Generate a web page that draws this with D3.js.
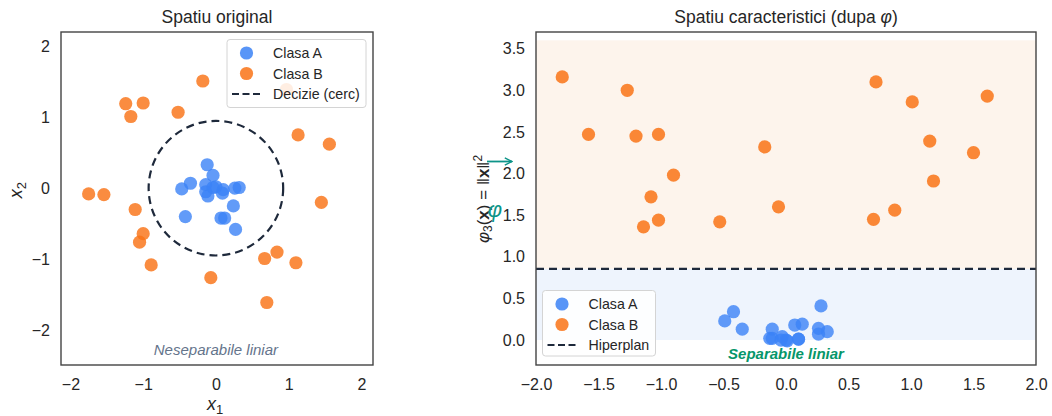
<html>
<head>
<meta charset="utf-8">
<title>Spatiu original / caracteristici</title>
<script src="https://cdn.jsdelivr.net/npm/d3@7"></script>
<style>
body { margin: 0; background: #fff; }
svg text { font-family: "Liberation Sans", Arial, sans-serif; }
</style>
</head>
<body>
<div id="chart"></div>
<script>
// ---- data ----
// left panel: original space (x1, x2)
var aX1 = [-0.12, -0.04, -0.35, -0.47, -0.14, 0.00, 0.10, -0.14, -0.11, 0.09, 0.26, 0.32, 0.24, -0.42, 0.07, 0.12, 0.27, -0.04];
var aX2 = [0.33, 0.18, 0.07, -0.01, 0.05, 0.02, -0.02, -0.05, -0.11, -0.07, 0.00, 0.01, -0.25, -0.40, -0.42, -0.42, -0.58, 0.01];
var bX1 = [-0.18, 0.97, -1.24, -1.00, -1.17, -0.52, 1.13, 1.56, -1.75, -1.54, 1.45, -1.11, -1.00, -1.05, 0.67, 0.84, 1.10, -0.89, -0.07, 0.70];
var bX2 = [1.51, 1.39, 1.19, 1.20, 1.01, 1.07, 0.75, 0.62, -0.08, -0.09, -0.20, -0.30, -0.64, -0.76, -0.99, -0.90, -1.05, -1.08, -1.26, -1.61];
var circleR = 0.925;

// right panel: feature space (x1, phi3)
var fAX = [0.28, -0.42, -0.49, -0.35, -0.11, 0.07, 0.13, 0.26, 0.33, 0.26, -0.13, -0.11, -0.03, 0.01, 0.10, 0.00, -0.04, 0.10];
var fAY = [0.41, 0.34, 0.23, 0.13, 0.13, 0.18, 0.19, 0.14, 0.10, 0.07, 0.02, 0.02, 0.04, -0.01, 0.01, 0.00, 0.00, 0.01];
var fBX = [-1.79, -1.27, -1.58, -1.20, -1.02, -0.17, -0.90, -1.08, -1.02, -1.14, -0.53, -0.06, 0.72, 1.01, 1.61, 1.15, 1.50, 1.18, 0.87, 0.70];
var fBY = [3.16, 3.00, 2.47, 2.45, 2.47, 2.32, 1.98, 1.72, 1.44, 1.36, 1.42, 1.60, 3.10, 2.86, 2.93, 2.39, 2.25, 1.91, 1.56, 1.45];
var threshold = 0.855;
var shadeTop = 3.6;

var leftXTicks = [-2, -1, 0, 1, 2];
var leftYTicks = [-2, -1, 0, 1, 2];
var rightXTicks = [-2.0, -1.5, -1.0, -0.5, 0.0, 0.5, 1.0, 1.5, 2.0];
var rightYTicks = [0.0, 0.5, 1.0, 1.5, 2.0, 2.5, 3.0, 3.5];

var colA = "#3b82f6", colB = "#f97316", dark = "#1e293b", teal = "#0d9488";

var svg = d3.select("#chart").append("svg").attr("width", 1052).attr("height", 416);

var L = {x0: 61, x1: 373, y0: 32, y1: 365};
var R = {x0: 536, x1: 1036, y0: 32, y1: 365};

var lx = d3.scaleLinear().domain([-2.13, 2.16]).range([L.x0, L.x1]);
var ly = d3.scaleLinear().domain([-2.49, 2.2]).range([L.y1, L.y0]);
var rx = d3.scaleLinear().domain([-2, 2]).range([R.x0, R.x1]);
var ry = d3.scaleLinear().domain([-0.3, 3.7]).range([R.y1, R.y0]);

function axes(g, xs, ys, xt, yt, fx, fy, box) {
  var ax = g.append("g").attr("transform", "translate(0," + box.y1 + ")")
    .call(d3.axisBottom(xs).tickValues(xt).tickSize(0).tickPadding(14).tickFormat(fx));
  var ay = g.append("g").attr("transform", "translate(" + box.x0 + ",0)")
    .call(d3.axisLeft(ys).tickValues(yt).tickSize(0).tickPadding(11).tickFormat(fy));
  [ax, ay].forEach(function(a) {
    a.select(".domain").remove();
    a.selectAll("text").attr("font-size", 16).attr("fill", "#262626")
      .style("font-family", "'Liberation Sans', Arial, sans-serif");
  });
}

function frame(g, box) {
  g.append("rect").attr("x", box.x0).attr("y", box.y0)
    .attr("width", box.x1 - box.x0).attr("height", box.y1 - box.y0)
    .attr("fill", "none").attr("stroke", "#444").attr("stroke-width", 1.4);
}

function points(g, xs, ys, X, Y, col, op) {
  g.append("g").selectAll("circle").data(X).join("circle")
    .attr("cx", function(d) { return xs(d); })
    .attr("cy", function(d, i) { return ys(Y[i]); })
    .attr("r", 6.6).attr("fill", col).attr("fill-opacity", op);
}

function legend(g, x, y, w, h, items) {
  var lg = g.append("g");
  lg.append("rect").attr("x", x).attr("y", y).attr("width", w).attr("height", h)
    .attr("rx", 3).attr("fill", "#fff").attr("fill-opacity", 0.85)
    .attr("stroke", "#d4d4d4").attr("stroke-width", 1);
  items.forEach(function(it, i) {
    var cy = y + 13.5 + i * 20.5;
    if (it.type == "dot") {
      lg.append("circle").attr("cx", x + 19.5).attr("cy", cy).attr("r", 6.6)
        .attr("fill", it.col).attr("fill-opacity", 0.85);
    } else {
      lg.append("line").attr("x1", x + 5).attr("x2", x + 34).attr("y1", cy).attr("y2", cy)
        .attr("stroke", dark).attr("stroke-width", 2).attr("stroke-dasharray", "7,3.5");
    }
    lg.append("text").attr("x", x + 46).attr("y", cy + 5).attr("font-size", 14.2)
      .attr("fill", "#262626").text(it.label);
  });
}

// ---------- left panel ----------
var gl = svg.append("g");
axes(gl, lx, ly, leftXTicks, leftYTicks, d3.format("d"), d3.format("d"), L);
points(gl, lx, ly, bX1, bX2, colB, 0.82);
points(gl, lx, ly, aX1, aX2, colA, 0.8);
gl.append("circle").attr("cx", lx(0)).attr("cy", ly(0))
  .attr("r", lx(circleR) - lx(0))
  .attr("fill", "none").attr("stroke", dark).attr("stroke-width", 2.2)
  .attr("stroke-dasharray", "8,5");
gl.append("text").attr("x", lx(0)).attr("y", 355).attr("text-anchor", "middle")
  .attr("font-size", 15).attr("font-style", "italic").attr("fill", "#64748b")
  .text("Neseparabile liniar");
legend(gl, 227, 39.5, 139, 68, [
  {type: "dot", col: colA, label: "Clasa A"},
  {type: "dot", col: colB, label: "Clasa B"},
  {type: "line", label: "Decizie (cerc)"}
]);
frame(gl, L);
gl.append("text").attr("x", (L.x0 + L.x1) / 2).attr("y", 23).attr("text-anchor", "middle")
  .attr("font-size", 17.5).attr("fill", "#262626").text("Spatiu original");
var xl = gl.append("text").attr("x", lx(0) - 9).attr("y", 410).attr("font-size", 18).attr("fill", "#262626");
xl.append("tspan").attr("font-style", "italic").text("x");
xl.append("tspan").attr("font-size", 13).attr("dy", 4).text("1");
var yl = gl.append("text").attr("transform", "translate(22," + (ly(0) + 10) + ") rotate(-90)")
  .attr("font-size", 18).attr("fill", "#262626");
yl.append("tspan").attr("font-style", "italic").text("x");
yl.append("tspan").attr("font-size", 13).attr("dy", 4).text("2");

// ---------- right panel ----------
var gr = svg.append("g");
gr.append("rect").attr("x", R.x0).attr("y", ry(shadeTop)).attr("width", R.x1 - R.x0)
  .attr("height", ry(threshold) - ry(shadeTop)).attr("fill", "#fdf4ec");
gr.append("rect").attr("x", R.x0).attr("y", ry(threshold)).attr("width", R.x1 - R.x0)
  .attr("height", ry(0) - ry(threshold)).attr("fill", "#eef4fd");
axes(gr, rx, ry, rightXTicks, rightYTicks, d3.format(".1f"), d3.format(".1f"), R);
gr.append("line").attr("x1", R.x0).attr("x2", R.x1).attr("y1", ry(threshold)).attr("y2", ry(threshold))
  .attr("stroke", dark).attr("stroke-width", 2.2).attr("stroke-dasharray", "8,5");
points(gr, rx, ry, fBX, fBY, colB, 0.85);
points(gr, rx, ry, fAX, fAY, colA, 0.8);
legend(gr, 542.5, 290.5, 113, 65.5, [
  {type: "dot", col: colA, label: "Clasa A"},
  {type: "dot", col: colB, label: "Clasa B"},
  {type: "line", label: "Hiperplan"}
]);
gr.append("text").attr("x", rx(0)).attr("y", 359).attr("text-anchor", "middle")
  .attr("font-size", 15).attr("font-style", "italic").attr("font-weight", "bold")
  .attr("fill", "#059669").text("Separabile liniar");
frame(gr, R);
var tr = gr.append("text").attr("x", (R.x0 + R.x1) / 2).attr("y", 23).attr("text-anchor", "middle")
  .attr("font-size", 17.5).attr("fill", "#262626");
tr.append("tspan").text("Spatiu caracteristici (dupa ");
tr.append("tspan").attr("font-style", "italic").text("φ");
tr.append("tspan").text(")");
var ylr = gr.append("text").attr("text-anchor", "middle")
  .attr("transform", "translate(489,199) rotate(-90)").attr("font-size", 17).attr("fill", "#262626");
ylr.append("tspan").attr("font-style", "italic").text("φ");
ylr.append("tspan").attr("font-size", 12).attr("dy", 3).text("3");
ylr.append("tspan").attr("dy", -3).text("(");
ylr.append("tspan").attr("font-weight", "bold").text("x");
ylr.append("tspan").text(") = ‖");
ylr.append("tspan").attr("font-weight", "bold").text("x");
ylr.append("tspan").text("‖");
ylr.append("tspan").attr("font-size", 12).attr("dy", -7).text("2");

// teal arrow phi
svg.append("defs").append("marker").attr("id", "ah").attr("viewBox", "0 0 10 10")
  .attr("refX", 9).attr("refY", 5).attr("markerWidth", 9).attr("markerHeight", 9)
  .attr("markerUnits", "userSpaceOnUse").attr("orient", "auto")
  .append("path").attr("d", "M1,1 L9,5 L1,9").attr("fill", "none").attr("stroke", teal).attr("stroke-width", 1.6);
gr.append("line").attr("x1", 487).attr("x2", 512).attr("y1", 161.5).attr("y2", 161.5)
  .attr("stroke", teal).attr("stroke-width", 1.8).attr("marker-end", "url(#ah)");
gr.append("text").attr("x", 495).attr("y", 217).attr("text-anchor", "middle")
  .attr("font-size", 22).attr("font-style", "italic").attr("fill", teal).text("φ");
</script>
</body>
</html>
